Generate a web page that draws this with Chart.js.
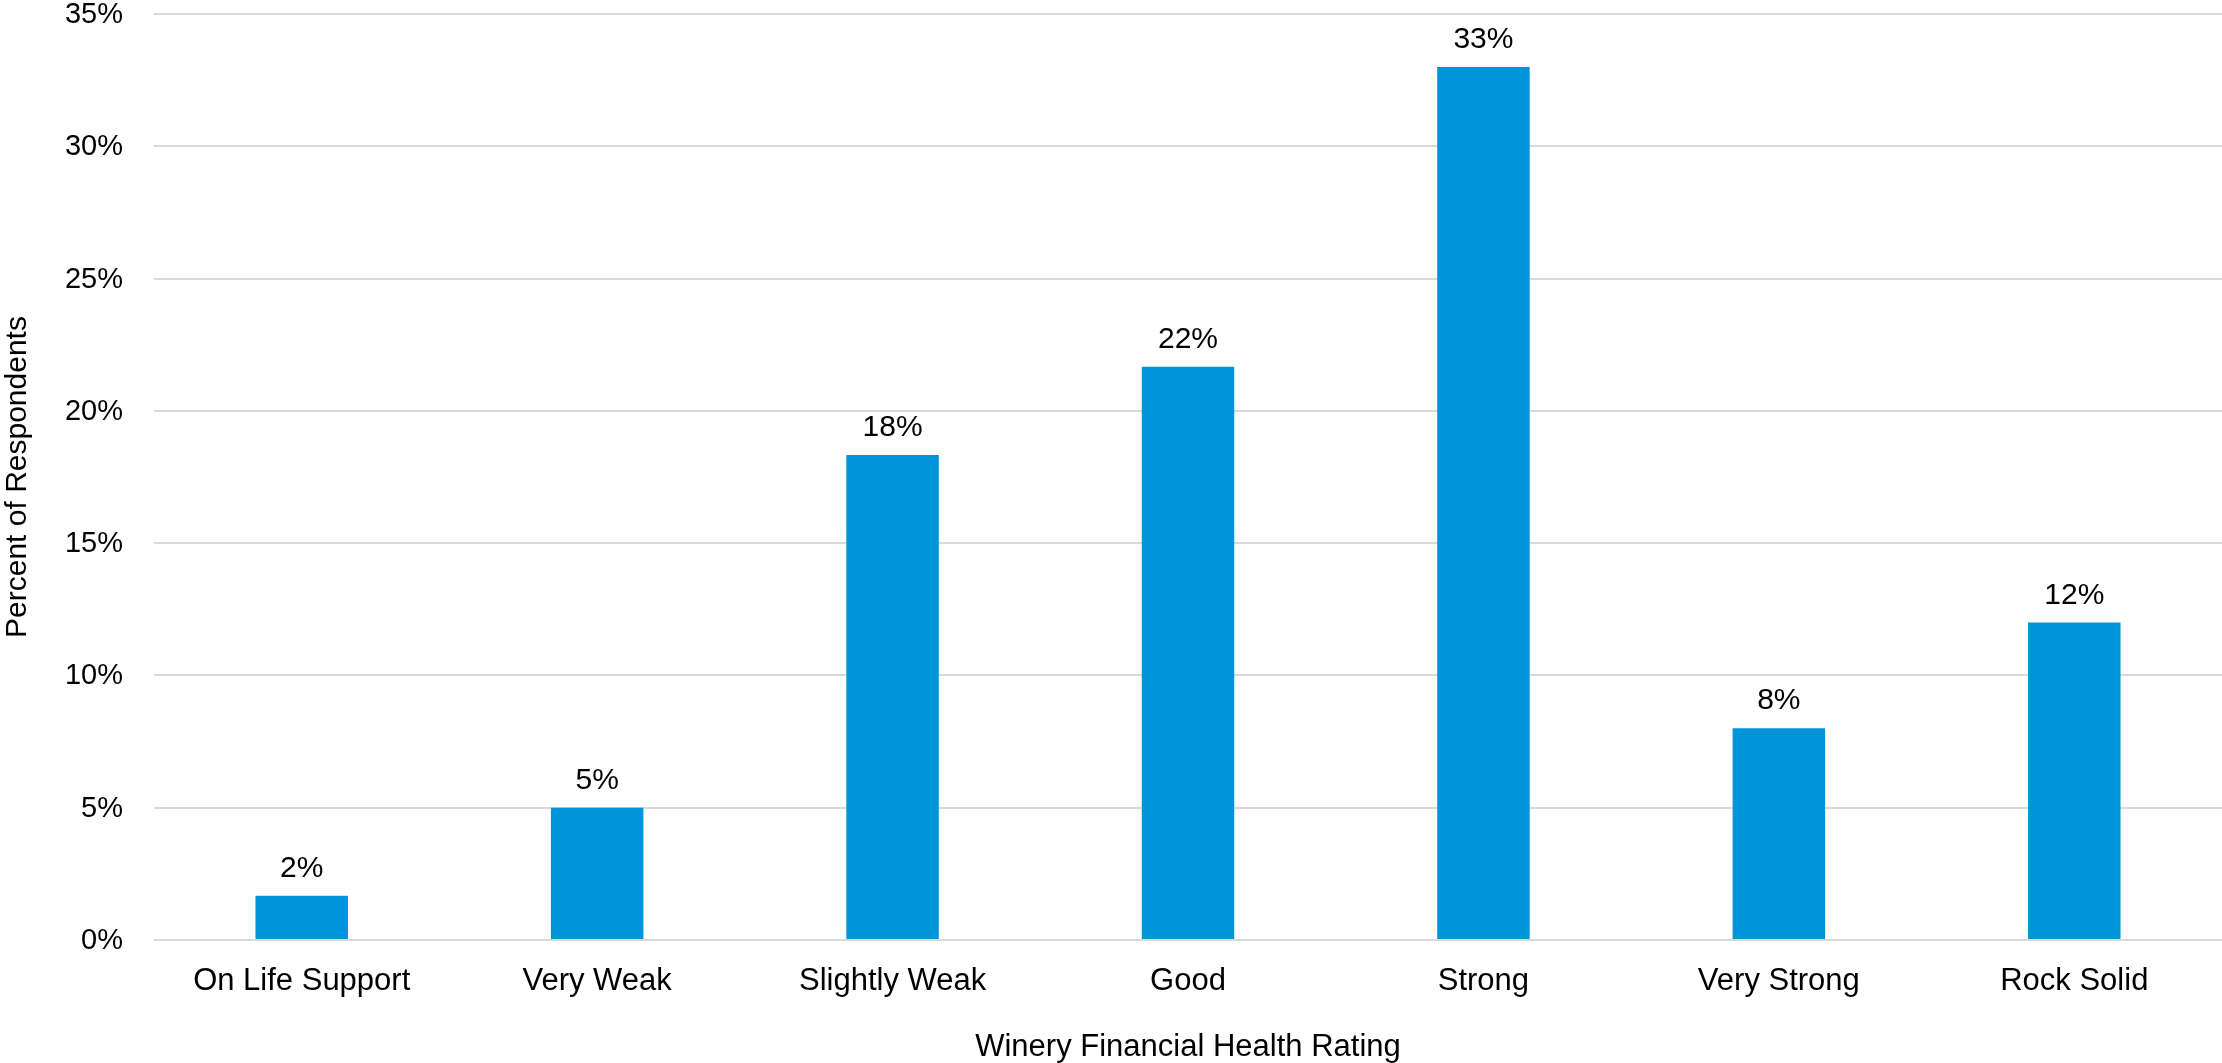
<!DOCTYPE html>
<html>
<head>
<meta charset="utf-8">
<script src="https://cdn.jsdelivr.net/npm/chart.js@4.4.1/dist/chart.umd.min.js"></script>
<style>
  html, body { margin: 0; padding: 0; background: #fff; }
  #wrap { width: 2222px; height: 1063px; }
</style>
</head>
<body>
<div id="wrap"><canvas id="healthChart"></canvas></div>
<script>
// survey categories and share of respondents (%)
const ratings = ["On Life Support", "Very Weak", "Slightly Weak", "Good", "Strong", "Very Strong", "Rock Solid"];
const shares = [1.67, 5, 18.33, 21.67, 33, 8, 12];
const yTicks = [0, 5, 10, 15, 20, 25, 30, 35];

const fontFamily = "'Liberation Sans', Arial, sans-serif";
const barColor = "#0095d9";

// percentage labels above each bar
const barLabels = {
  id: "barLabels",
  afterDatasetsDraw(chart) {
    const ctx = chart.ctx;
    const meta = chart.getDatasetMeta(0);
    ctx.save();
    ctx.font = "30px " + fontFamily;
    ctx.fillStyle = "#000";
    ctx.textAlign = "center";
    ctx.textBaseline = "alphabetic";
    meta.data.forEach((bar, i) => {
      ctx.fillText(Math.round(shares[i]) + "%", bar.x, bar.y - 19);
    });
    ctx.restore();
  },
};

// y tick labels, right-aligned a fixed gap left of the plot area
const yTickLabels = {
  id: "yTickLabels",
  afterDraw(chart) {
    const ctx = chart.ctx;
    const yScale = chart.scales.y;
    const xRight = chart.chartArea.left - 31;
    ctx.save();
    ctx.font = "29px " + fontFamily;
    ctx.fillStyle = "#000";
    ctx.textAlign = "right";
    ctx.textBaseline = "middle";
    yTicks.forEach((v) => {
      ctx.fillText(v + "%", xRight, yScale.getPixelForValue(v) + 1);
    });
    ctx.restore();
  },
};

function main() {
  const ctx = document.getElementById("healthChart").getContext("2d");
  new Chart(ctx, {
    type: "bar",
    data: {
      labels: ratings,
      datasets: [
        {
          data: shares,
          backgroundColor: barColor,
          borderWidth: 0,
          barPercentage: 0.313,
          categoryPercentage: 1,
        },
      ],
    },
    options: {
      responsive: true,
      maintainAspectRatio: false,
      animation: false,
      layout: { padding: { top: 14, right: 0, bottom: 0, left: 0 } },
      plugins: {
        legend: { display: false },
        tooltip: { enabled: false },
      },
      scales: {
        x: {
          grid: { display: false, drawTicks: false },
          border: { display: false },
          ticks: {
            color: "#000",
            padding: 23,
            maxRotation: 0,
            font: { family: fontFamily, size: 31 },
          },
          title: {
            display: true,
            text: "Winery Financial Health Rating",
            color: "#000",
            padding: 0,
            font: { family: fontFamily, size: 31, lineHeight: 1 },
          },
          afterFit: (scale) => {
            scale.height = 123;
          },
        },
        y: {
          min: 0,
          max: 35,
          afterBuildTicks: (scale) => {
            scale.ticks = yTicks.map((v) => ({ value: v }));
          },
          grid: { color: "#d9d9d9", lineWidth: 2, drawTicks: false },
          border: { display: false },
          ticks: { display: false },
          title: {
            display: true,
            text: "Percent of Respondents",
            color: "#000",
            padding: 0,
            font: { family: fontFamily, size: 30, lineHeight: 1.2 },
          },
          afterFit: (scale) => {
            scale.width = 154;
          },
        },
      },
    },
    plugins: [barLabels, yTickLabels],
  });
}

main();
</script>
</body>
</html>
